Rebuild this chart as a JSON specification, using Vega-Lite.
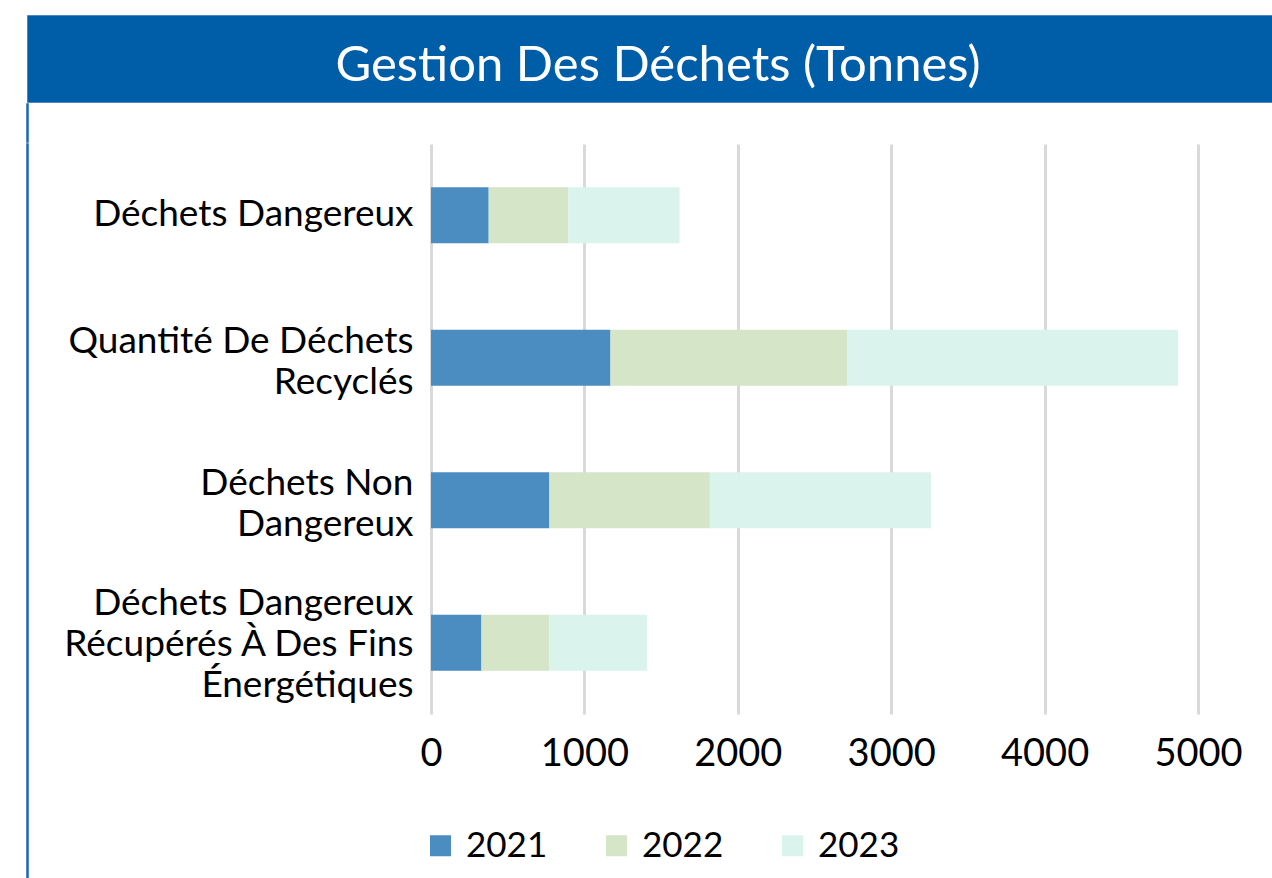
{
  "$schema": "https://vega.github.io/schema/vega-lite/v6.json",
  "padding": {"left": 24, "top": 14, "right": 0, "bottom": 0},
  "background": "white",
  "config": {"font": "Lato"},
  "spacing": 0,
  "vconcat": [
    {
      "width": 1262,
      "height": 87,
      "view": {"fill": "#005DA8", "stroke": "#4C86C4", "strokeWidth": 1},
      "data": {"values": [{"t": "Gestion Des Déchets (Tonnes)"}]},
      "mark": {"type": "text", "color": "white", "fontSize": 49, "font": "Lato", "baseline": "alphabetic", "dy": 22},
      "encoding": {"text": {"field": "t"}}
    },
    {
      "width": 1,
      "height": 38,
      "view": {"stroke": "#1B67B2", "strokeWidth": 1.5},
      "data": {"values": [{"a": 1}]},
      "mark": {"type": "point", "opacity": 0},
      "encoding": {}
    },
    {
      "hconcat": [
        {
          "width": 1,
          "height": 745,
          "view": {"stroke": "#1B67B2", "strokeWidth": 1.5},
          "data": {"values": [{"a": 1}]},
          "mark": {"type": "point", "opacity": 0},
          "encoding": {}
        },
        {
          "width": 767,
          "height": 570,
          "view": {"stroke": null},
          "data": {"values": [
            {"category": "Déchets Dangereux", "year": "2021", "value": 376},
            {"category": "Déchets Dangereux", "year": "2022", "value": 519},
            {"category": "Déchets Dangereux", "year": "2023", "value": 725},
            {"category": "Quantité De Déchets Recyclés", "year": "2021", "value": 1170},
            {"category": "Quantité De Déchets Recyclés", "year": "2022", "value": 1542},
            {"category": "Quantité De Déchets Recyclés", "year": "2023", "value": 2158},
            {"category": "Déchets Non Dangereux", "year": "2021", "value": 772},
            {"category": "Déchets Non Dangereux", "year": "2022", "value": 1046},
            {"category": "Déchets Non Dangereux", "year": "2023", "value": 1441},
            {"category": "Déchets Dangereux Récupérés À Des Fins Énergétiques", "year": "2021", "value": 329},
            {"category": "Déchets Dangereux Récupérés À Des Fins Énergétiques", "year": "2022", "value": 443},
            {"category": "Déchets Dangereux Récupérés À Des Fins Énergétiques", "year": "2023", "value": 636}
          ]},
          "mark": {"type": "bar"},
          "encoding": {
            "y": {
              "field": "category", "type": "nominal", "sort": null,
              "scale": {"paddingInner": 0.607, "paddingOuter": 0.3035},
              "axis": {
                "title": null, "domain": false, "ticks": false,
                "labelFontSize": 37, "labelFont": "Lato", "labelColor": "#000000",
                "labelPadding": 18, "labelLineHeight": 41, "labelLimit": 1000,
                "labelExpr": "datum.value == 'Quantité De Déchets Recyclés' ? ['Quantité De Déchets', 'Recyclés'] : datum.value == 'Déchets Non Dangereux' ? ['Déchets Non', 'Dangereux'] : datum.value == 'Déchets Dangereux Récupérés À Des Fins Énergétiques' ? ['Déchets Dangereux', 'Récupérés À Des Fins', 'Énergétiques'] : datum.value",
                "labelOffset": {
                  "condition": [
                    {"test": "datum.value == 'Déchets Dangereux'", "value": 0},
                    {"test": "datum.value == 'Déchets Dangereux Récupérés À Des Fins Énergétiques'", "value": -39}
                  ],
                  "value": -16
                }
              }
            },
            "x": {
              "field": "value", "type": "quantitative", "stack": "zero",
              "scale": {"domain": [0, 5000], "nice": false},
              "axis": {
                "title": null, "domain": false, "ticks": false,
                "values": [0, 1000, 2000, 3000, 4000, 5000],
                "grid": true, "gridColor": "#D9D9D9", "gridWidth": 3,
                "labelFontSize": 38, "labelFont": "Lato", "labelColor": "#000000",
                "labelPadding": 21, "format": "d", "labelFlush": false
              }
            },
            "color": {
              "field": "year", "type": "nominal",
              "scale": {"domain": ["2021", "2022", "2023"], "range": ["#4B8DC0", "#D4E5C8", "#DAF3EC"]},
              "legend": {
                "title": null, "orient": "none", "direction": "horizontal",
                "legendX": 396, "legendY": 813,
                "symbolType": "square", "symbolSize": 441, "symbolStrokeWidth": 0,
                "labelFontSize": 35, "labelFont": "Lato", "labelColor": "#000000",
                "labelOffset": 8, "columnPadding": 51,
                "encode": {"symbols": {"update": {"fill": [{"test": "datum.value === '2021'", "value": "#0477B6"}, {"scale": "color", "field": "value"}], "stroke": {"value": null}}}}
              }
            }
          }
        }
      ],
      "spacing": 30
    }
  ]
}
